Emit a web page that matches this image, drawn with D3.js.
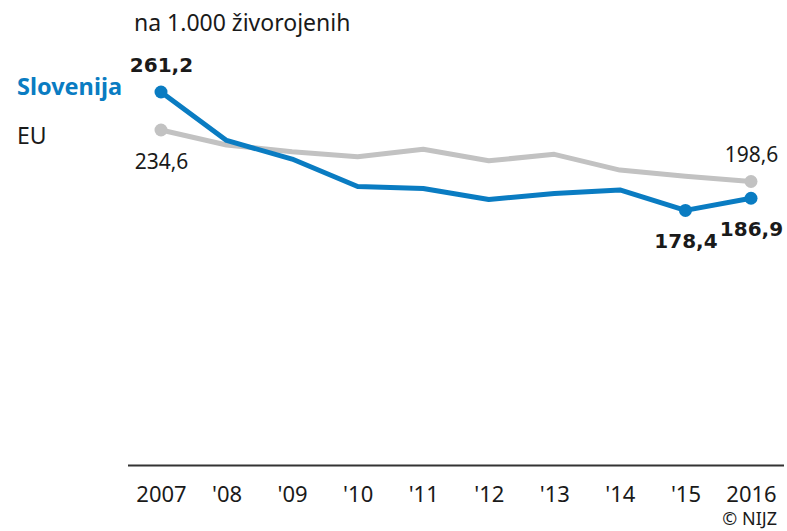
<!DOCTYPE html>
<html><head><meta charset="utf-8">
<script src="https://cdn.jsdelivr.net/npm/d3@7"></script>
<style>
html,body{margin:0;padding:0;background:#fff;}
svg{display:block;}
</style></head>
<body>
<svg id="chart" width="787" height="531"></svg>
<script>
const years = [2007, 2008, 2009, 2010, 2011, 2012, 2013, 2014, 2015, 2016];
const tickLabels = ["2007", "'08", "'09", "'10", "'11", "'12", "'13", "'14", "'15", "2016"];
const slovenia = [261.2, 227.3, 214.3, 195.1, 193.7, 186.0, 190.2, 192.7, 178.4, 186.9];
const eu = [234.6, 224.1, 219.4, 215.9, 221.1, 213.1, 217.6, 206.6, 202.3, 198.6];
const sloLabels = [{i: 0, pos: "above"}, {i: 8, pos: "below"}, {i: 9, pos: "below"}];
const euLabels = [{i: 0, pos: "below"}, {i: 9, pos: "above"}];
const unitLabel = "na 1.000 živorojenih";
const seriesNames = ["Slovenija", "EU"];
const credit = "© NIJZ";

const BLUE = "#0a7cc2", GRAY = "#c2c2c2", TEXT = "#1a1a1a";
const svg = d3.select("#chart");
const x = d3.scaleLinear().domain([2007, 2016]).range([161, 751]);
const y = d3.scaleLinear().domain([0, 300]).range([465.5, 36.5]);
const fmt = v => d3.format(".1f")(v).replace(".", ",");

// axis
const axis = d3.axisBottom(x).tickValues(years).tickSize(0).tickPadding(0)
  .tickFormat((d, i) => tickLabels[i]);
const ag = svg.append("g").attr("transform", `translate(0,${y(0)})`).call(axis);
ag.select(".domain").remove();
ag.append("line").attr("x1", 128).attr("x2", 784).attr("y1", 0).attr("y2", 0)
  .attr("stroke", "#333").attr("stroke-width", 2);
ag.selectAll(".tick text").attr("y", 36).attr("dy", 0)
  .attr("font-family", "Noto Sans").attr("font-size", 22).attr("fill", TEXT);

const line = d3.line().x((d, i) => x(years[i])).y(d => y(d));

function drawSeries(vals, color, labels, bold) {
  svg.append("path").datum(vals).attr("d", line).attr("fill", "none")
    .attr("stroke", color).attr("stroke-width", 5).attr("stroke-linejoin", "round");
  svg.selectAll(null).data(labels).enter().append("circle")
    .attr("cx", d => x(years[d.i])).attr("cy", d => y(vals[d.i])).attr("r", 6.5).attr("fill", color);
  svg.selectAll(null).data(labels).enter().append("text")
    .attr("x", d => x(years[d.i]) + 0.5)
    .attr("y", d => y(vals[d.i]) + (d.pos === "above" ? -20 : (bold ? 38 : 39)))
    .attr("text-anchor", "middle")
    .attr("font-family", bold ? "DejaVu Sans" : "Noto Sans")
    .attr("font-weight", bold ? "bold" : "normal")
    .attr("font-size", bold ? 20 : 21)
    .attr("fill", TEXT)
    .text(d => fmt(vals[d.i]));
}
drawSeries(eu, GRAY, euLabels, false);
drawSeries(slovenia, BLUE, sloLabels, true);

svg.append("text").attr("x", 134).attr("y", 31).attr("font-family", "Noto Sans")
  .attr("font-size", 23).attr("fill", TEXT).text(unitLabel);
svg.append("text").attr("x", 17).attr("y", 95).attr("font-family", "Noto Sans")
  .attr("font-weight", "bold").attr("font-size", 23.5).attr("fill", BLUE).text(seriesNames[0]);
svg.append("text").attr("x", 17).attr("y", 144).attr("font-family", "Noto Sans")
  .attr("font-size", 23).attr("fill", TEXT).text(seriesNames[1]);
svg.append("text").attr("x", 777).attr("y", 525).attr("text-anchor", "end").attr("font-family", "Noto Sans")
  .attr("font-size", 18).attr("fill", TEXT).text(credit);
</script>
</body></html>
